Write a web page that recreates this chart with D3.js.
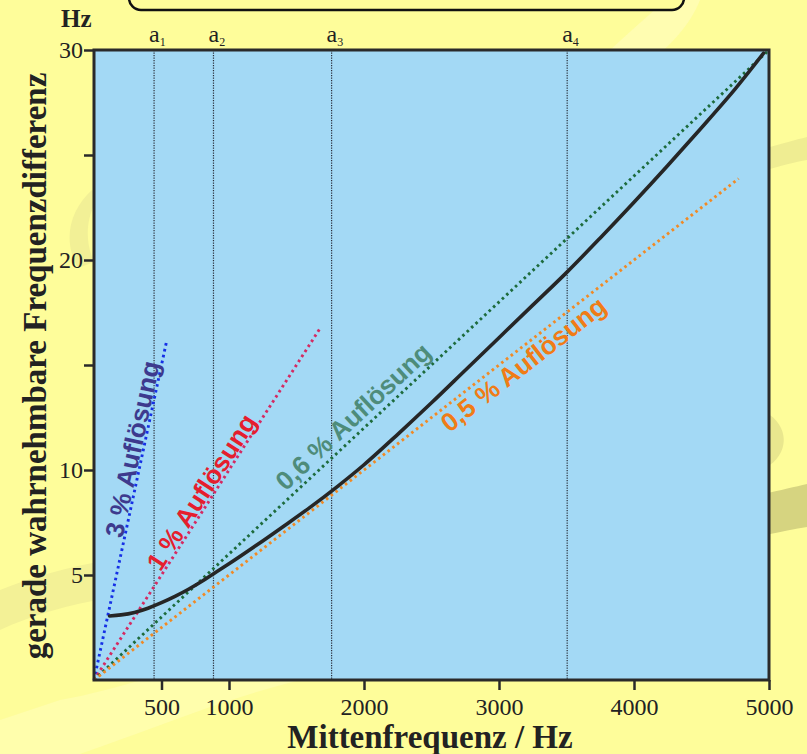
<!DOCTYPE html>
<html>
<head>
<meta charset="utf-8">
<script src="https://cdn.jsdelivr.net/npm/d3@7/dist/d3.min.js"></script>
<style>
  html, body { margin: 0; padding: 0; background: #fefd9a; }
  svg { display: block; }
</style>
</head>
<body>
<svg id="chart" width="807" height="754"></svg>
<script>
// Just noticeable frequency difference vs. centre frequency
const jndFreq = [115, 200, 300, 400, 500, 600, 700, 800, 900, 1000, 1200, 1400, 1600, 1800, 2000, 2250, 2500, 2750, 3000, 3250, 3500, 3750, 4000, 4250, 4500, 4750, 4960];
const jndDiff = [3.05, 3.10, 3.22, 3.42, 3.68, 3.98, 4.32, 4.70, 5.12, 5.53, 6.40, 7.30, 8.22, 9.20, 10.25, 11.70, 13.20, 14.75, 16.30, 17.85, 19.40, 21.05, 22.75, 24.50, 26.30, 28.15, 29.85];

// Constant relative resolution lines (percent of centre frequency)
const resolutionPct    = [3, 1, 0.6, 0.5];
const resolutionEndHz  = [540, 1675, 5000, 4775];
const resolutionLabels = ["3 % Auflösung", "1 % Auflösung", "0,6 % Auflösung", "0,5 % Auflösung"];
const resolutionLabelHz = [363, 866, 2000, 3115];

// Marker frequencies
const markerNames = ["1", "2", "3", "4"];
const markerFreqs = [445, 885, 1760, 3505];

// Axis ticks
const xTickValues = [500, 1000, 2000, 3000, 4000, 5000];
const yTickValues = [5, 10, 15, 20, 25, 30];
const yTickLabels = ["5", "10", "", "20", "", "30"];

// ---- styling ----
const lineColors  = ["#1530e6", "#d42a62", "#1d6b3c", "#f08a26"];
const labelColors = ["#3d3a8e", "#e51e2e", "#4e8c7a", "#f07c16"];
const labelOffsets = [1.8, 2.1, 6.8, -23.4];   // px, perpendicular to the line

const svg = d3.select("#chart");
const W = 807, H = 754;
const plot = { left: 94, right: 769, top: 50, bottom: 680 };

// background
svg.append("rect").attr("width", W).attr("height", H).attr("fill", "#fefd9a");

// soft decorative swooshes in the backdrop
const deco = svg.append("g");
deco.append("path").attr("d", "M0,590 C30,578 70,566 110,560 L110,598 C70,604 30,616 0,630 Z").attr("fill", "#f3f196");
deco.append("path").attr("d", "M60,700 C120,690 200,660 280,640 L300,680 C220,700 150,730 80,754 L0,754 L0,720 Z").attr("fill", "#fffdb4").attr("opacity", 0.7);
deco.append("path").attr("d", "M760,495 C780,490 795,487 807,484 L807,527 C795,529 780,532 760,536 Z").attr("fill", "#d6d480");
deco.append("path").attr("d", "M765,412 C790,425 790,455 765,468 Z").attr("fill", "#e9e78e");
deco.append("path").attr("d", "M760,150 C780,144 795,140 807,137 L807,160 C795,162 780,166 760,172 Z").attr("fill", "#efed92");
deco.append("path").attr("d", "M92,190 C70,210 62,240 78,268 L94,262 C84,240 86,214 100,196 Z").attr("fill", "#f2f096");
deco.append("path").attr("d", "M600,60 C625,35 650,15 665,0 L700,0 C690,25 672,45 640,70 Z").attr("fill", "#fffcb6").attr("opacity", 0.8);

// header box (partly outside the page)
svg.append("rect")
  .attr("x", 129).attr("y", -30).attr("width", 555).attr("height", 40)
  .attr("rx", 12).attr("ry", 12)
  .attr("fill", "#fefd9a").attr("stroke", "#111").attr("stroke-width", 2.5);

// scales
const x = d3.scaleLinear().domain([0, 5000]).range([plot.left, plot.right]);
const y = d3.scaleLinear().domain([0, 30]).range([plot.bottom, plot.top]);

// plot area
svg.append("rect")
  .attr("x", plot.left).attr("y", plot.top)
  .attr("width", plot.right - plot.left).attr("height", plot.bottom - plot.top)
  .attr("fill", "#a3d9f5");

// marker lines a1..a4
const markers = svg.append("g");
markerFreqs.forEach((f, i) => {
  markers.append("line")
    .attr("x1", x(f)).attr("x2", x(f))
    .attr("y1", plot.top).attr("y2", plot.bottom)
    .attr("stroke", "#2b2f3a").attr("stroke-width", 1.2)
    .attr("stroke-dasharray", "1.2 1.3");
  const t = markers.append("text")
    .attr("x", x(f) - 5).attr("y", 42)
    .attr("font-family", "'Liberation Serif', 'Times New Roman', serif")
    .attr("font-size", 24).attr("fill", "#222");
  t.append("tspan").text("a");
  t.append("tspan").attr("font-size", 12).attr("dy", 4).text(markerNames[i]);
});

// resolution lines
const resG = svg.append("g");
resolutionPct.forEach((p, i) => {
  const fEnd = resolutionEndHz[i];
  resG.append("line")
    .attr("x1", x(0)).attr("y1", y(0))
    .attr("x2", x(fEnd)).attr("y2", y(fEnd * p / 100))
    .attr("stroke", lineColors[i]).attr("stroke-width", 2.9)
    .attr("stroke-dasharray", "2.6 3.4");
});

// measured curve
const line = d3.line()
  .x((d, i) => x(jndFreq[i]))
  .y(d => y(d))
  .curve(d3.curveCatmullRom);
svg.append("path")
  .datum(jndDiff)
  .attr("d", line)
  .attr("fill", "none")
  .attr("stroke", "#262626")
  .attr("stroke-width", 3.6)
  .attr("stroke-linecap", "round");

// resolution labels, laid along their lines
resolutionPct.forEach((p, i) => {
  const fEnd = resolutionEndHz[i];
  const dx = x(fEnd) - x(0), dy = y(fEnd * p / 100) - y(0);
  const ang = Math.atan2(dy, dx);
  const nx = Math.sin(ang), ny = -Math.cos(ang);  // normal pointing up-left
  const f = resolutionLabelHz[i];
  const px = x(f) + nx * labelOffsets[i];
  const py = y(f * p / 100) + ny * labelOffsets[i];
  svg.append("text")
    .attr("transform", `translate(${px},${py}) rotate(${ang * 180 / Math.PI})`)
    .attr("text-anchor", "middle")
    .attr("font-family", "'Liberation Sans', Arial, sans-serif")
    .attr("font-weight", "bold")
    .attr("font-size", 26)
    .attr("fill", labelColors[i])
    .text(resolutionLabels[i]);
});

// frame
svg.append("rect")
  .attr("x", plot.left).attr("y", plot.top)
  .attr("width", plot.right - plot.left).attr("height", plot.bottom - plot.top)
  .attr("fill", "none").attr("stroke", "#2a2a2a").attr("stroke-width", 3);

// axes
const serif = "'Liberation Serif', 'Times New Roman', serif";
const xAxis = svg.append("g")
  .attr("transform", `translate(0,${plot.bottom})`)
  .call(d3.axisBottom(x).tickValues(xTickValues).tickSize(10).tickPadding(8).tickFormat(d3.format("d")));
const yAxis = svg.append("g")
  .attr("transform", `translate(${plot.left},0)`)
  .call(d3.axisLeft(y).tickValues(yTickValues).tickSize(10).tickPadding(1)
    .tickFormat((d, i) => yTickLabels[i]));
[xAxis, yAxis].forEach(a => {
  a.select(".domain").remove();
  a.selectAll(".tick line").attr("stroke", "#2a2a2a").attr("stroke-width", 2.5);
  a.selectAll(".tick text")
    .attr("font-family", serif).attr("font-size", 24).attr("fill", "#222");
});
xAxis.selectAll(".tick text").attr("dy", "0.72em");

// axis titles
svg.append("text")
  .attr("x", 430).attr("y", 748)
  .attr("text-anchor", "middle")
  .attr("font-family", serif).attr("font-weight", "bold")
  .attr("font-size", 33).attr("fill", "#222")
  .text("Mittenfrequenz / Hz");
svg.append("text")
  .attr("transform", "translate(46,366) rotate(-90)")
  .attr("text-anchor", "middle")
  .attr("font-family", serif).attr("font-weight", "bold")
  .attr("font-size", 33).attr("fill", "#222")
  .text("gerade wahrnehmbare Frequenzdifferenz");
svg.append("text")
  .attr("x", 61).attr("y", 27)
  .attr("font-family", serif).attr("font-weight", "bold")
  .attr("font-size", 25).attr("fill", "#222")
  .text("Hz");
</script>
</body>
</html>
